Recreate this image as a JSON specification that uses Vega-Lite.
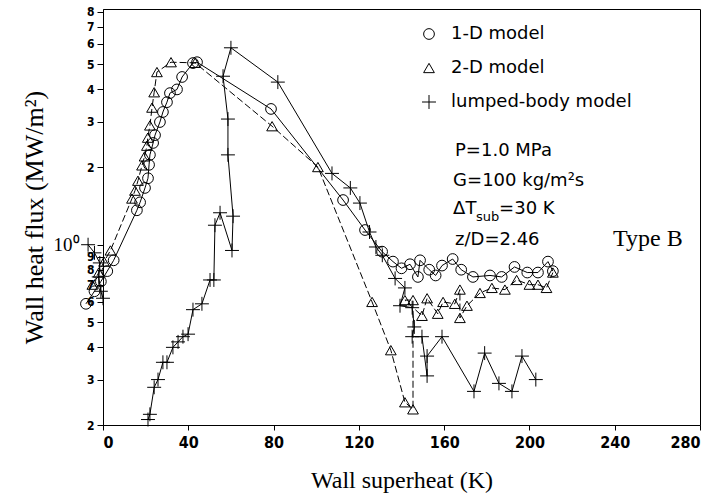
{
  "$schema": "https://vega.github.io/schema/vega-lite/v6.json",
  "width": 597,
  "height": 416,
  "autosize": {"type": "none"},
  "padding": {"left": 103, "top": 9, "right": 8, "bottom": 76},
  "background": "white",
  "config": {
    "view": {"stroke": "black", "strokeWidth": 1},
    "axis": {"domainColor": "black", "tickColor": "black", "labelColor": "black", "titleColor": "black", "grid": false}
  },
  "datasets": {
    "curves": [
      {"m": "1-D model", "s": "a", "i": 0, "x": -8, "y": 0.59},
      {"m": "1-D model", "s": "a", "i": 1, "x": -4, "y": 0.66},
      {"m": "1-D model", "s": "a", "i": 2, "x": -1, "y": 0.72},
      {"m": "1-D model", "s": "a", "i": 3, "x": 2, "y": 0.79},
      {"m": "1-D model", "s": "a", "i": 4, "x": 5, "y": 0.87},
      {"m": "1-D model", "s": "a", "i": 5, "x": 15.9, "y": 1.36},
      {"m": "1-D model", "s": "a", "i": 6, "x": 17.4, "y": 1.46},
      {"m": "1-D model", "s": "a", "i": 7, "x": 19.7, "y": 1.66},
      {"m": "1-D model", "s": "a", "i": 8, "x": 21.1, "y": 1.81},
      {"m": "1-D model", "s": "a", "i": 9, "x": 21.6, "y": 2.04},
      {"m": "1-D model", "s": "a", "i": 10, "x": 22, "y": 2.23},
      {"m": "1-D model", "s": "a", "i": 11, "x": 23.5, "y": 2.48},
      {"m": "1-D model", "s": "a", "i": 12, "x": 24.4, "y": 2.66},
      {"m": "1-D model", "s": "a", "i": 13, "x": 26.7, "y": 2.99},
      {"m": "1-D model", "s": "a", "i": 14, "x": 28.1, "y": 3.27},
      {"m": "1-D model", "s": "a", "i": 15, "x": 30, "y": 3.57},
      {"m": "1-D model", "s": "a", "i": 16, "x": 31.4, "y": 3.87},
      {"m": "1-D model", "s": "a", "i": 17, "x": 34.7, "y": 4.0},
      {"m": "1-D model", "s": "a", "i": 18, "x": 37.1, "y": 4.47},
      {"m": "1-D model", "s": "a", "i": 19, "x": 42.2, "y": 5.06},
      {"m": "1-D model", "s": "a", "i": 20, "x": 44.1, "y": 5.1},
      {"m": "1-D model", "s": "a", "i": 21, "x": 78.8, "y": 3.36},
      {"m": "1-D model", "s": "a", "i": 22, "x": 112.6, "y": 1.49},
      {"m": "1-D model", "s": "a", "i": 23, "x": 122.9, "y": 1.14},
      {"m": "1-D model", "s": "a", "i": 24, "x": 130.9, "y": 0.94},
      {"m": "1-D model", "s": "a", "i": 25, "x": 136, "y": 0.86},
      {"m": "1-D model", "s": "a", "i": 26, "x": 140, "y": 0.81},
      {"m": "1-D model", "s": "a", "i": 27, "x": 144, "y": 0.84},
      {"m": "1-D model", "s": "a", "i": 28, "x": 147.7, "y": 0.75},
      {"m": "1-D model", "s": "a", "i": 29, "x": 148.7, "y": 0.87},
      {"m": "1-D model", "s": "a", "i": 30, "x": 153, "y": 0.8},
      {"m": "1-D model", "s": "a", "i": 31, "x": 156, "y": 0.76},
      {"m": "1-D model", "s": "a", "i": 32, "x": 159, "y": 0.83},
      {"m": "1-D model", "s": "a", "i": 33, "x": 164, "y": 0.88},
      {"m": "1-D model", "s": "a", "i": 34, "x": 168, "y": 0.8},
      {"m": "1-D model", "s": "a", "i": 35, "x": 173.5, "y": 0.75},
      {"m": "1-D model", "s": "a", "i": 36, "x": 181.5, "y": 0.76},
      {"m": "1-D model", "s": "a", "i": 37, "x": 187, "y": 0.75},
      {"m": "1-D model", "s": "a", "i": 38, "x": 193, "y": 0.82},
      {"m": "1-D model", "s": "a", "i": 39, "x": 199, "y": 0.78},
      {"m": "1-D model", "s": "a", "i": 40, "x": 204, "y": 0.78},
      {"m": "1-D model", "s": "a", "i": 41, "x": 208.7, "y": 0.86},
      {"m": "1-D model", "s": "a", "i": 42, "x": 211, "y": 0.79},

      {"m": "2-D model", "s": "b", "i": 0, "x": -5, "y": 0.7},
      {"m": "2-D model", "s": "b", "i": 1, "x": -2, "y": 0.78},
      {"m": "2-D model", "s": "b", "i": 2, "x": 0.5, "y": 0.86},
      {"m": "2-D model", "s": "b", "i": 3, "x": 3.5, "y": 0.95},
      {"m": "2-D model", "s": "b", "i": 4, "x": 13.6, "y": 1.51},
      {"m": "2-D model", "s": "b", "i": 5, "x": 15, "y": 1.62},
      {"m": "2-D model", "s": "b", "i": 6, "x": 16.4, "y": 1.77},
      {"m": "2-D model", "s": "b", "i": 7, "x": 18.3, "y": 2.03},
      {"m": "2-D model", "s": "b", "i": 8, "x": 19.5, "y": 2.2},
      {"m": "2-D model", "s": "b", "i": 9, "x": 20.6, "y": 2.42},
      {"m": "2-D model", "s": "b", "i": 10, "x": 21, "y": 2.6},
      {"m": "2-D model", "s": "b", "i": 11, "x": 22, "y": 2.9},
      {"m": "2-D model", "s": "b", "i": 12, "x": 23, "y": 3.4},
      {"m": "2-D model", "s": "b", "i": 13, "x": 24, "y": 3.9},
      {"m": "2-D model", "s": "b", "i": 14, "x": 25.3, "y": 4.67},
      {"m": "2-D model", "s": "b", "i": 15, "x": 31.9, "y": 5.1},
      {"m": "2-D model", "s": "b", "i": 16, "x": 43.2, "y": 5.07},
      {"m": "2-D model", "s": "b", "i": 17, "x": 79.3, "y": 2.88},
      {"m": "2-D model", "s": "b", "i": 18, "x": 100.8, "y": 2.0},
      {"m": "2-D model", "s": "b", "i": 19, "x": 126.2, "y": 0.6},
      {"m": "2-D model", "s": "b", "i": 20, "x": 135, "y": 0.39},
      {"m": "2-D model", "s": "b", "i": 21, "x": 141.6, "y": 0.245},
      {"m": "2-D model", "s": "b", "i": 22, "x": 145.4, "y": 0.23},
      {"m": "2-D model", "s": "b", "i": 23, "x": 145.4, "y": 0.61},
      {"m": "2-D model", "s": "b", "i": 24, "x": 141.6, "y": 0.61},
      {"m": "2-D model", "s": "b", "i": 25, "x": 149.6, "y": 0.53},
      {"m": "2-D model", "s": "b", "i": 26, "x": 152, "y": 0.62},
      {"m": "2-D model", "s": "b", "i": 27, "x": 157, "y": 0.54},
      {"m": "2-D model", "s": "b", "i": 28, "x": 159.5, "y": 0.6},
      {"m": "2-D model", "s": "b", "i": 29, "x": 165, "y": 0.59},
      {"m": "2-D model", "s": "b", "i": 30, "x": 167.4, "y": 0.67},
      {"m": "2-D model", "s": "b", "i": 31, "x": 167.4, "y": 0.52},
      {"m": "2-D model", "s": "b", "i": 32, "x": 170.7, "y": 0.58},
      {"m": "2-D model", "s": "b", "i": 33, "x": 176.8, "y": 0.65},
      {"m": "2-D model", "s": "b", "i": 34, "x": 182.4, "y": 0.68},
      {"m": "2-D model", "s": "b", "i": 35, "x": 188.5, "y": 0.67},
      {"m": "2-D model", "s": "b", "i": 36, "x": 194, "y": 0.73},
      {"m": "2-D model", "s": "b", "i": 37, "x": 200, "y": 0.7},
      {"m": "2-D model", "s": "b", "i": 38, "x": 204, "y": 0.7},
      {"m": "2-D model", "s": "b", "i": 39, "x": 208, "y": 0.68},
      {"m": "2-D model", "s": "b", "i": 40, "x": 211, "y": 0.78},

      {"m": "lumped-body model", "s": "c", "i": 0, "x": -7, "y": 1.0},
      {"m": "lumped-body model", "s": "c", "i": 1, "x": -4, "y": 0.93},
      {"m": "lumped-body model", "s": "c", "i": 2, "x": -1.5, "y": 0.85},
      {"m": "lumped-body model", "s": "c", "i": 3, "x": -2, "y": 0.75},
      {"m": "lumped-body model", "s": "c", "i": 4, "x": -1, "y": 0.66},
      {"m": "lumped-body model", "s": "c", "i": 5, "x": 0, "y": 0.62},

      {"m": "lumped-body model", "s": "d", "i": 0, "x": 21.1, "y": 0.21},
      {"m": "lumped-body model", "s": "d", "i": 1, "x": 22, "y": 0.22},
      {"m": "lumped-body model", "s": "d", "i": 2, "x": 24, "y": 0.28},
      {"m": "lumped-body model", "s": "d", "i": 3, "x": 25.8, "y": 0.3},
      {"m": "lumped-body model", "s": "d", "i": 4, "x": 28.1, "y": 0.35},
      {"m": "lumped-body model", "s": "d", "i": 5, "x": 30, "y": 0.35},
      {"m": "lumped-body model", "s": "d", "i": 6, "x": 32.8, "y": 0.4},
      {"m": "lumped-body model", "s": "d", "i": 7, "x": 35.2, "y": 0.42},
      {"m": "lumped-body model", "s": "d", "i": 8, "x": 37.5, "y": 0.44},
      {"m": "lumped-body model", "s": "d", "i": 9, "x": 39.9, "y": 0.45},
      {"m": "lumped-body model", "s": "d", "i": 10, "x": 42.2, "y": 0.56},
      {"m": "lumped-body model", "s": "d", "i": 11, "x": 46.4, "y": 0.59},
      {"m": "lumped-body model", "s": "d", "i": 12, "x": 50.2, "y": 0.73},
      {"m": "lumped-body model", "s": "d", "i": 13, "x": 52, "y": 0.73},
      {"m": "lumped-body model", "s": "d", "i": 14, "x": 52.5, "y": 1.19},
      {"m": "lumped-body model", "s": "d", "i": 15, "x": 54.9, "y": 1.33},
      {"m": "lumped-body model", "s": "d", "i": 16, "x": 60.5, "y": 0.95},
      {"m": "lumped-body model", "s": "d", "i": 17, "x": 61, "y": 1.29},
      {"m": "lumped-body model", "s": "d", "i": 18, "x": 58.6, "y": 2.23},
      {"m": "lumped-body model", "s": "d", "i": 19, "x": 58.6, "y": 3.07},
      {"m": "lumped-body model", "s": "d", "i": 20, "x": 56.3, "y": 4.5},
      {"m": "lumped-body model", "s": "d", "i": 21, "x": 60, "y": 5.8},
      {"m": "lumped-body model", "s": "d", "i": 22, "x": 82, "y": 4.27},
      {"m": "lumped-body model", "s": "d", "i": 23, "x": 107.4, "y": 1.89},
      {"m": "lumped-body model", "s": "d", "i": 24, "x": 116, "y": 1.66},
      {"m": "lumped-body model", "s": "d", "i": 25, "x": 120.5, "y": 1.45},
      {"m": "lumped-body model", "s": "d", "i": 26, "x": 125, "y": 1.12},
      {"m": "lumped-body model", "s": "d", "i": 27, "x": 128, "y": 0.98},
      {"m": "lumped-body model", "s": "d", "i": 28, "x": 131, "y": 0.91},
      {"m": "lumped-body model", "s": "d", "i": 29, "x": 137, "y": 0.74},
      {"m": "lumped-body model", "s": "d", "i": 30, "x": 141.6, "y": 0.68},
      {"m": "lumped-body model", "s": "d", "i": 31, "x": 139.3, "y": 0.58},
      {"m": "lumped-body model", "s": "d", "i": 32, "x": 145, "y": 0.57},
      {"m": "lumped-body model", "s": "d", "i": 33, "x": 146, "y": 0.48},
      {"m": "lumped-body model", "s": "d", "i": 34, "x": 145, "y": 0.44},
      {"m": "lumped-body model", "s": "d", "i": 35, "x": 149.6, "y": 0.44},
      {"m": "lumped-body model", "s": "d", "i": 36, "x": 152, "y": 0.31},
      {"m": "lumped-body model", "s": "d", "i": 37, "x": 152, "y": 0.37},
      {"m": "lumped-body model", "s": "d", "i": 38, "x": 159, "y": 0.44},
      {"m": "lumped-body model", "s": "d", "i": 39, "x": 174, "y": 0.27},
      {"m": "lumped-body model", "s": "d", "i": 40, "x": 179, "y": 0.38},
      {"m": "lumped-body model", "s": "d", "i": 41, "x": 185.7, "y": 0.29},
      {"m": "lumped-body model", "s": "d", "i": 42, "x": 191.8, "y": 0.27},
      {"m": "lumped-body model", "s": "d", "i": 43, "x": 196.5, "y": 0.37},
      {"m": "lumped-body model", "s": "d", "i": 44, "x": 203, "y": 0.3}
    ]
  },
  "layer": [
    {
      "data": {"name": "curves"},
      "transform": [{"filter": "datum.m != '2-D model'"}],
      "mark": {"type": "line", "color": "black", "strokeWidth": 1},
      "encoding": {
        "x": {
          "field": "x", "type": "quantitative",
          "scale": {"domain": [0, 280], "nice": false, "zero": false},
          "axis": {
            "values": [0, 40, 80, 120, 160, 200, 240, 280],
            "tickSize": 5,
            "labelFont": "Liberation Sans Narrow, DejaVu Sans Condensed, sans-serif",
            "labelFontWeight": "bold",
            "labelFontSize": 16,
            "labelPadding": 4,
            "title": "Wall superheat (K)",
            "titleFont": "Liberation Serif",
            "titleFontSize": 24,
            "titleFontWeight": "normal",
            "titlePadding": 18
          }
        },
        "y": {
          "field": "y", "type": "quantitative",
          "scale": {"type": "log", "domain": [0.2, 8.2], "nice": false},
          "axis": {
            "values": [0.2, 0.3, 0.4, 0.5, 0.6, 0.7, 0.8, 0.9, 1, 2, 3, 4, 5, 6, 7, 8],
            "labelExpr": "datum.value == 1 ? '10⁰' : (datum.value < 1 ? format(datum.value * 10, '.0f') : format(datum.value, '.0f'))",
            "tickSize": 6,
            "labelOverlap": false,
            "labelBound": false,
            "labelFont": {"condition": {"test": "datum.value == 1", "value": "Liberation Serif"}, "value": "Liberation Sans Narrow, DejaVu Sans Condensed, sans-serif"},
            "labelFontWeight": {"condition": {"test": "datum.value == 1", "value": "normal"}, "value": "bold"},
            "labelFontSize": {"condition": {"test": "datum.value == 1", "value": 19}, "value": 12},
            "labelPadding": {"condition": {"test": "datum.value == 1", "value": 18}, "value": 3},
            "title": "Wall heat flux (MW/m²)",
            "titleFont": "Liberation Serif",
            "titleFontSize": 26,
            "titleFontWeight": "normal",
            "titlePadding": 6
          }
        },
        "detail": {"field": "s"},
        "order": {"field": "i", "type": "quantitative"}
      }
    },
    {
      "data": {"name": "curves"},
      "transform": [{"filter": "datum.m == '2-D model'"}],
      "mark": {"type": "line", "color": "black", "strokeWidth": 1, "strokeDash": [7, 3]},
      "encoding": {
        "x": {"field": "x", "type": "quantitative"},
        "y": {"field": "y", "type": "quantitative"},
        "order": {"field": "i", "type": "quantitative"}
      }
    },
    {
      "data": {"name": "curves"},
      "mark": {"type": "point", "filled": false, "stroke": "black", "strokeWidth": 1, "opacity": 1, "size": 115},
      "encoding": {
        "x": {"field": "x", "type": "quantitative"},
        "y": {"field": "y", "type": "quantitative"},
        "shape": {
          "field": "m", "type": "nominal",
          "scale": {"domain": ["1-D model", "2-D model", "lumped-body model"], "range": ["circle", "triangle-up", "M-1.3,0L1.3,0M0,-1.3L0,1.3"]},
          "legend": {
            "title": null,
            "orient": "none",
            "legendX": 317,
            "legendY": 16,
            "padding": 0,
            "symbolSize": 115,
            "symbolStrokeColor": "black",
            "symbolFillColor": "transparent",
            "symbolStrokeWidth": 1,
            "labelFont": "DejaVu Sans",
            "labelFontSize": 18,
            "labelColor": "black",
            "labelOffset": 13,
            "labelLimit": 300,
            "rowPadding": 16
          }
        }
      }
    },
    {
      "data": {"values": [{}]},
      "mark": {"type": "text", "align": "left", "baseline": "alphabetic", "font": "DejaVu Sans", "fontSize": 18, "color": "black", "text": "P=1.0 MPa"},
      "encoding": {"x": {"datum": 165.1, "type": "quantitative"}, "y": {"datum": 2.2, "type": "quantitative"}}
    },
    {
      "data": {"values": [{}]},
      "mark": {"type": "text", "align": "left", "baseline": "alphabetic", "font": "DejaVu Sans", "fontSize": 18, "color": "black", "text": "G=100 kg/m²s"},
      "encoding": {"x": {"datum": 164.2, "type": "quantitative"}, "y": {"datum": 1.69, "type": "quantitative"}}
    },
    {
      "data": {"values": [{}]},
      "mark": {"type": "text", "align": "left", "baseline": "alphabetic", "font": "DejaVu Sans", "fontSize": 18, "color": "black", "text": "ΔT"},
      "encoding": {"x": {"datum": 164.2, "type": "quantitative"}, "y": {"datum": 1.315, "type": "quantitative"}}
    },
    {
      "data": {"values": [{}]},
      "mark": {"type": "text", "align": "left", "baseline": "alphabetic", "font": "DejaVu Sans", "fontSize": 13, "color": "black", "text": "sub", "dx": 23, "dy": 7},
      "encoding": {"x": {"datum": 164.2, "type": "quantitative"}, "y": {"datum": 1.315, "type": "quantitative"}}
    },
    {
      "data": {"values": [{}]},
      "mark": {"type": "text", "align": "left", "baseline": "alphabetic", "font": "DejaVu Sans", "fontSize": 18, "color": "black", "text": "=30 K", "dx": 46},
      "encoding": {"x": {"datum": 164.2, "type": "quantitative"}, "y": {"datum": 1.315, "type": "quantitative"}}
    },
    {
      "data": {"values": [{}]},
      "mark": {"type": "text", "align": "left", "baseline": "alphabetic", "font": "DejaVu Sans", "fontSize": 18, "color": "black", "text": "z/D=2.46"},
      "encoding": {"x": {"datum": 165.1, "type": "quantitative"}, "y": {"datum": 0.997, "type": "quantitative"}}
    },
    {
      "data": {"values": [{}]},
      "mark": {"type": "text", "align": "left", "baseline": "alphabetic", "font": "Liberation Serif", "fontSize": 24, "color": "black", "text": "Type B"},
      "encoding": {"x": {"datum": 239.2, "type": "quantitative"}, "y": {"datum": 0.99, "type": "quantitative"}}
    }
  ]
}
